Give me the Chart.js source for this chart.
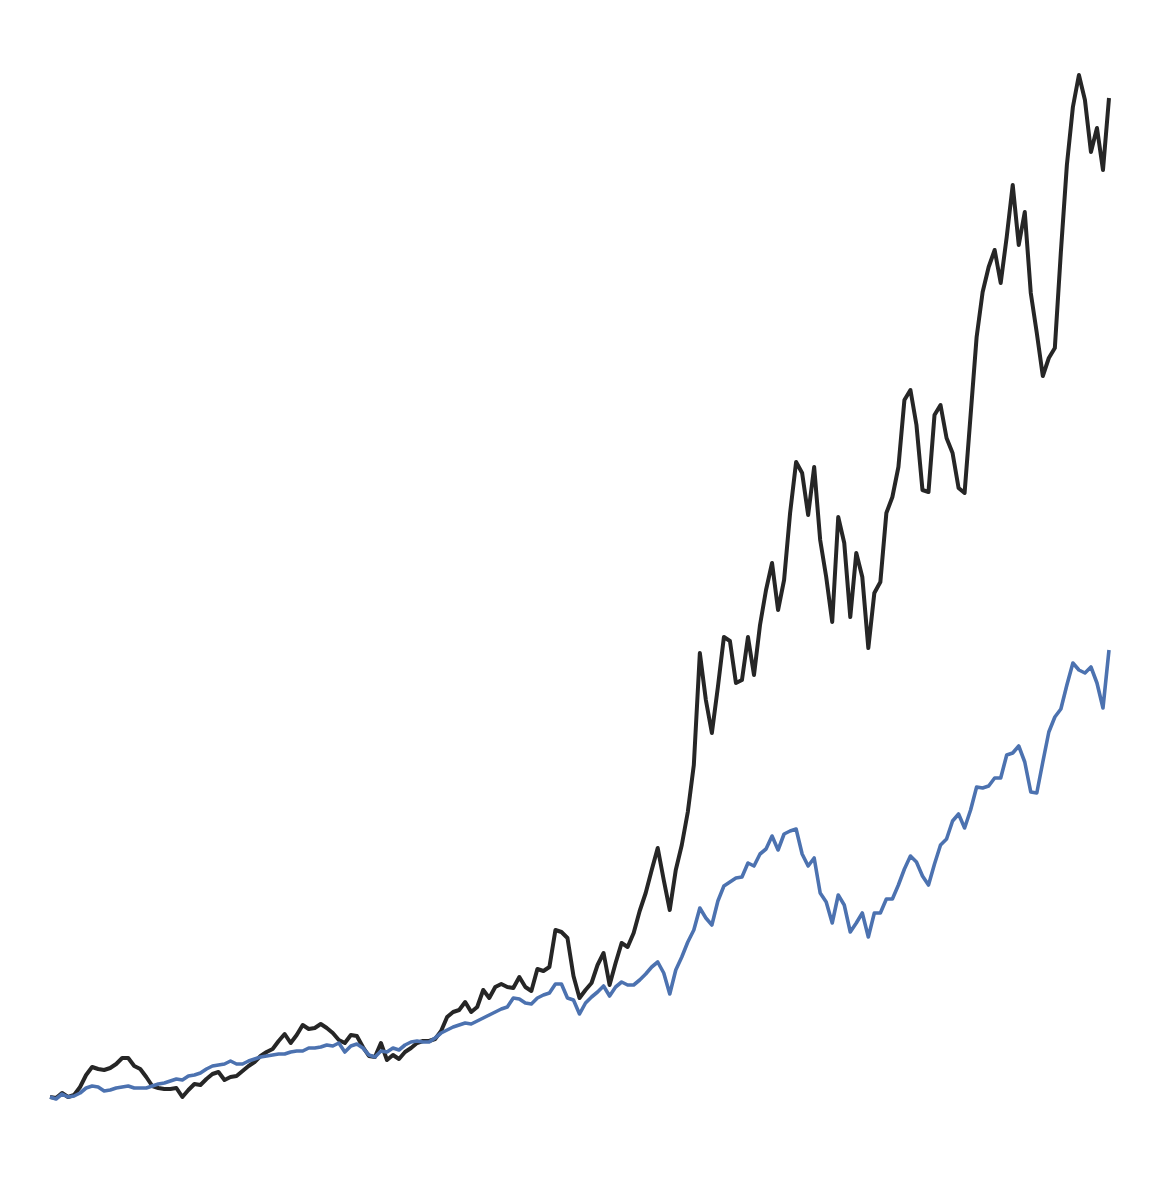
<!DOCTYPE html>
<html>
<head>
<meta charset="utf-8">
<script src="https://cdn.jsdelivr.net/npm/chart.js@4.4.1/dist/chart.umd.min.js"></script>
<style>
  html, body { margin: 0; padding: 0; background: #ffffff; }
  #wrap { width: 1174px; height: 1194px; position: relative; }
</style>
</head>
<body>
<div id="wrap"><canvas id="c"></canvas></div>
<script>
// Growth of 1 unit, one value per period
const blackSeries = [
  1.01,1.00,1.05,1.01,1.03,1.11,1.23,1.31,1.29,1.28,
  1.30,1.34,1.40,1.40,1.32,1.29,1.21,1.12,1.10,1.09,
  1.09,1.10,1.01,1.08,1.14,1.13,1.19,1.24,1.26,1.18,
  1.21,1.22,1.27,1.32,1.36,1.42,1.46,1.49,1.57,1.64,
  1.55,1.63,1.73,1.69,1.70,1.74,1.70,1.65,1.58,1.55,
  1.63,1.62,1.51,1.42,1.41,1.55,1.38,1.43,1.39,1.46,
  1.50,1.55,1.57,1.57,1.59,1.67,1.81,1.86,1.88,1.96,
  1.86,1.91,2.08,2.00,2.11,2.14,2.11,2.10,2.21,2.11,
  2.07,2.29,2.27,2.31,2.68,2.66,2.60,2.22,2.00,2.08,
  2.15,2.33,2.45,2.13,2.35,2.55,2.51,2.65,2.87,3.05,
  3.28,3.50,3.18,2.88,3.28,3.53,3.86,4.33,5.45,4.98,
  4.65,5.11,5.61,5.57,5.15,5.18,5.61,5.23,5.73,6.08,
  6.35,5.88,6.18,6.85,7.36,7.25,6.83,7.31,6.58,6.21,
  5.76,6.81,6.55,5.81,6.45,6.21,5.50,6.05,6.16,6.85,
  7.01,7.31,7.98,8.08,7.73,7.08,7.06,7.83,7.93,7.60,
  7.45,7.10,7.05,7.83,8.61,9.06,9.31,9.48,9.15,9.61,
  10.13,9.53,9.86,9.05,8.65,8.22,8.40,8.50,9.46,10.33,
  10.91,11.23,10.98,10.46,10.70,10.28,11.00
];
const blueSeries = [
  1.01,0.99,1.04,1.01,1.02,1.05,1.10,1.12,1.11,1.07,
  1.08,1.10,1.11,1.12,1.10,1.10,1.10,1.12,1.14,1.15,
  1.17,1.19,1.18,1.22,1.23,1.25,1.29,1.32,1.33,1.34,
  1.37,1.34,1.34,1.37,1.39,1.41,1.42,1.43,1.44,1.44,
  1.46,1.47,1.47,1.50,1.50,1.51,1.53,1.52,1.55,1.46,
  1.52,1.54,1.50,1.43,1.41,1.47,1.46,1.50,1.48,1.53,
  1.56,1.57,1.56,1.56,1.60,1.65,1.68,1.71,1.73,1.75,
  1.74,1.77,1.80,1.83,1.86,1.89,1.91,2.00,1.99,1.95,
  1.94,2.00,2.03,2.05,2.14,2.14,2.00,1.98,1.84,1.95,
  2.01,2.06,2.12,2.02,2.11,2.16,2.13,2.13,2.18,2.24,
  2.31,2.36,2.25,2.04,2.28,2.41,2.56,2.68,2.90,2.80,
  2.73,2.97,3.12,3.16,3.20,3.21,3.35,3.32,3.44,3.49,
  3.62,3.48,3.64,3.67,3.69,3.44,3.32,3.40,3.05,2.96,
  2.75,3.03,2.93,2.66,2.75,2.85,2.61,2.85,2.85,2.99,
  2.99,3.13,3.29,3.42,3.36,3.22,3.13,3.34,3.53,3.59,
  3.77,3.84,3.70,3.88,4.11,4.10,4.12,4.20,4.20,4.43,
  4.45,4.52,4.36,4.06,4.05,4.36,4.66,4.81,4.89,5.13,
  5.35,5.28,5.25,5.31,5.15,4.90,5.48
];
const periods = blackSeries.map((_, i) => 'P' + (i + 1));
const valueRange = [0.5, 11.5];

new Chart(document.getElementById('c'), {
  type: 'line',
  data: {
    labels: periods,
    datasets: [
      {
        label: 'Blue',
        data: blueSeries,
        borderColor: '#4c72b0',
        borderWidth: 3.6,
        pointRadius: 0,
        tension: 0,
        fill: false,
        order: 0,
        borderJoinStyle: 'round',
        borderCapStyle: 'butt',
        clip: false
      },
      {
        label: 'Black',
        data: blackSeries,
        borderColor: '#262626',
        borderWidth: 4,
        pointRadius: 0,
        tension: 0,
        fill: false,
        order: 1,
        borderJoinStyle: 'round',
        borderCapStyle: 'butt',
        clip: false
      }
    ]
  },
  options: {
    responsive: true,
    maintainAspectRatio: false,
    animation: false,
    layout: { padding: { left: 50, right: 65, top: 48, bottom: 46 } },
    plugins: { legend: { display: false }, tooltip: { enabled: false } },
    scales: {
      x: { display: false, offset: false },
      y: { display: false, min: valueRange[0], max: valueRange[1] }
    }
  }
});
</script>
</body>
</html>
